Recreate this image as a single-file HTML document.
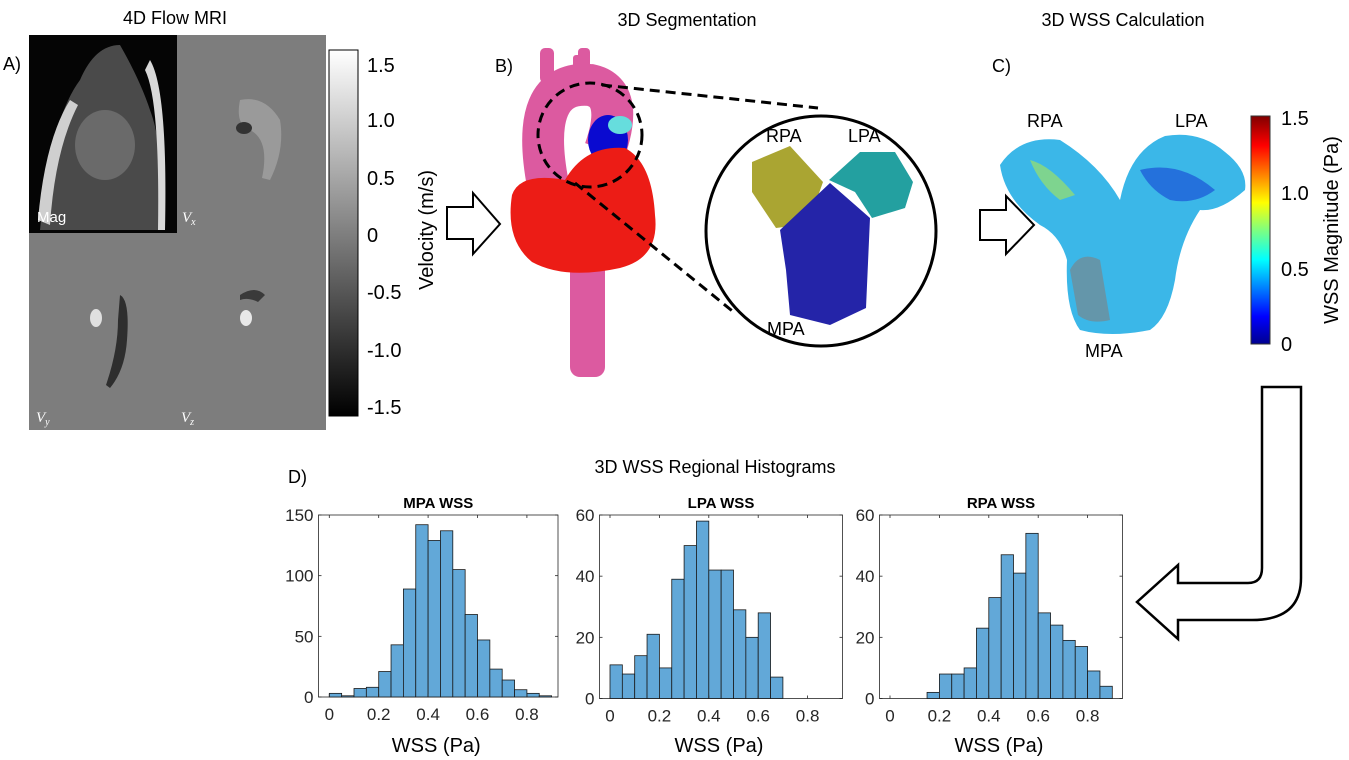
<!DOCTYPE html>
<html><head><meta charset="utf-8"><style>
html,body{margin:0;padding:0;background:#fff;}
svg{display:block;font-family:"Liberation Sans",sans-serif;}
.t{font-family:"Liberation Sans",sans-serif;fill:#000;}
</style></head><body>
<svg id="fig" width="1349" height="760" viewBox="0 0 1349 760" xmlns="http://www.w3.org/2000/svg">
<defs>
<linearGradient id="gray" x1="0" y1="0" x2="0" y2="1"><stop offset="0" stop-color="#fff"/><stop offset="1" stop-color="#000"/></linearGradient>
<linearGradient id="jet" x1="0" y1="1" x2="0" y2="0">
<stop offset="0" stop-color="#00008f"/><stop offset="0.12" stop-color="#0000ff"/><stop offset="0.37" stop-color="#00ffff"/><stop offset="0.5" stop-color="#7fff7f"/><stop offset="0.62" stop-color="#ffff00"/><stop offset="0.87" stop-color="#ff0000"/><stop offset="1" stop-color="#800000"/></linearGradient>
</defs>

<!-- Panel A -->
<g>
<text class="t" x="175" y="24" font-size="18" text-anchor="middle">4D Flow MRI</text>
<text class="t" x="3" y="70" font-size="18">A)</text>
<rect x="29" y="35" width="297" height="395" fill="#7d7d7d"/>
<rect x="29" y="35" width="148" height="198" fill="#050505"/>
<path d="M40,230 Q50,120 80,80 Q95,45 120,45 Q140,80 150,110 Q165,150 162,230Z" fill="#4a4a4a"/>
<path d="M150,60 Q168,90 165,230 L158,230 Q160,100 145,70Z" fill="#d8d8d8"/>
<path d="M38,220 Q45,140 70,100 L78,105 Q55,150 50,225Z" fill="#cfcfcf"/>
<ellipse cx="105" cy="145" rx="30" ry="35" fill="#6a6a6a"/>
<text x="37" y="222" font-size="15" fill="#fff">Mag</text>
<path d="M240,100 Q265,95 280,120 Q285,150 270,180 L262,178 Q270,140 250,130 Q235,125 240,100Z" fill="#9a9a9a"/>
<ellipse cx="244" cy="128" rx="8" ry="6" fill="#333"/>
<path d="M120,295 Q130,300 127,340 Q125,370 110,388 L106,385 Q118,350 118,320Z" fill="#2e2e2e"/>
<ellipse cx="96" cy="318" rx="6" ry="9" fill="#e0e0e0"/>
<ellipse cx="246" cy="318" rx="6" ry="8" fill="#e8e8e8"/>
<path d="M240,295 Q255,285 265,295 L258,302 Q248,297 240,300Z" fill="#3a3a3a"/>
<text x="182" y="222" font-size="15" font-style="italic" fill="#fff" font-family="Liberation Serif,serif">V<tspan font-size="10" dy="3">x</tspan></text>
<text x="36" y="422" font-size="15" font-style="italic" fill="#fff" font-family="Liberation Serif,serif">V<tspan font-size="10" dy="3">y</tspan></text>
<text x="181" y="422" font-size="15" font-style="italic" fill="#fff" font-family="Liberation Serif,serif">V<tspan font-size="10" dy="3">z</tspan></text>
<rect x="329" y="50" width="29" height="366" fill="url(#gray)" stroke="#000" stroke-width="1"/>
<g font-size="20" class="t">
<text x="367" y="72">1.5</text><text x="367" y="127">1.0</text><text x="367" y="185">0.5</text><text x="367" y="242">0</text><text x="367" y="299">-0.5</text><text x="367" y="357">-1.0</text><text x="367" y="414">-1.5</text>
</g>
<text class="t" font-size="20" transform="translate(433,230) rotate(-90)" text-anchor="middle">Velocity (m/s)</text>
</g>

<path d="M447,207 H473 V193 L500,224 L473,254 V239 H447Z" fill="#fff" stroke="#000" stroke-width="2"/>

<!-- Panel B -->
<g>
<text class="t" x="687" y="26" font-size="18" text-anchor="middle">3D Segmentation</text>
<text class="t" x="495" y="72" font-size="18">B)</text>
<rect x="570" y="240" width="35" height="137" rx="10" fill="#dc5aa0"/>
<rect x="540" y="48" width="14" height="35" rx="5" fill="#dc5aa0"/>
<rect x="573" y="55" width="8" height="22" rx="3" fill="#dc5aa0"/>
<rect x="578" y="48" width="12" height="30" rx="4" fill="#dc5aa0"/>
<path d="M548,185 Q528,80 590,85 Q625,92 605,150" fill="none" stroke="#dc5aa0" stroke-width="42"/>
<ellipse cx="608" cy="140" rx="20" ry="25" fill="#0a0ad0"/>
<ellipse cx="620" cy="125" rx="12" ry="9" fill="#66dddd"/>
<path d="M512,195 Q520,172 565,180 Q585,145 625,148 Q652,162 655,215 Q660,258 620,268 Q565,280 532,262 Q505,240 512,195Z" fill="#ec1c16"/>
<circle cx="590" cy="135" r="52" fill="none" stroke="#000" stroke-width="3" stroke-dasharray="10,6"/>
<line x1="602" y1="85" x2="818" y2="108" stroke="#000" stroke-width="3" stroke-dasharray="10,6"/>
<line x1="575" y1="183" x2="736" y2="314" stroke="#000" stroke-width="3" stroke-dasharray="10,6"/>
<circle cx="821" cy="231" r="115" fill="#fff" stroke="#000" stroke-width="3"/>
<path d="M752,162 L790,146 L823,182 L808,224 L776,228 L752,192Z" fill="#aaa532"/>
<path d="M829,180 L860,152 L895,152 L913,182 L905,208 L872,218 L855,192Z" fill="#23a0a0"/>
<path d="M780,230 L830,183 L870,218 L866,308 L830,325 L790,315 L786,270Z" fill="#2424a8"/>
<text class="t" x="766" y="142" font-size="18">RPA</text>
<text class="t" x="848" y="142" font-size="18">LPA</text>
<text class="t" x="767" y="335" font-size="18">MPA</text>
</g>

<path d="M980,210 H1006 V196 L1034,225 L1006,254 V240 H980Z" fill="#fff" stroke="#000" stroke-width="2"/>

<!-- Panel C -->
<g>
<text class="t" x="1123" y="26" font-size="18" text-anchor="middle">3D WSS Calculation</text>
<text class="t" x="992" y="72" font-size="18">C)</text>
<path d="M1000,165 Q1020,135 1060,140 Q1100,165 1120,200 Q1130,150 1165,136 Q1200,130 1225,152 Q1248,170 1245,190 Q1220,212 1200,210 Q1180,240 1175,280 Q1168,318 1150,330 Q1110,338 1080,330 Q1065,310 1067,260 Q1060,235 1040,225 Q1005,200 1000,165Z" fill="#3bb7e8"/>
<path d="M1140,170 Q1180,160 1215,190 Q1195,205 1170,200 Q1150,190 1140,170Z" fill="#1f5fd8" opacity="0.8"/>
<path d="M1070,270 Q1080,250 1100,260 L1110,320 Q1090,325 1078,315Z" fill="#808080" opacity="0.6"/>
<path d="M1030,160 Q1050,165 1075,195 L1060,200 Q1040,185 1030,160Z" fill="#9be06a" opacity="0.7"/>
<text class="t" x="1027" y="127" font-size="18">RPA</text>
<text class="t" x="1175" y="127" font-size="18">LPA</text>
<text class="t" x="1085" y="357" font-size="18">MPA</text>
<rect x="1251" y="116" width="19" height="228" fill="url(#jet)" stroke="#333" stroke-width="1"/>
<g font-size="20" class="t">
<text x="1281" y="125">1.5</text><text x="1281" y="200">1.0</text><text x="1281" y="276">0.5</text><text x="1281" y="351">0</text>
</g>
<text class="t" font-size="20" transform="translate(1338,230) rotate(-90)" text-anchor="middle">WSS Magnitude (Pa)</text>
</g>

<path d="M1262,387 H1301 V578 Q1301,620 1252,620 H1178 V639 L1137,602 L1178,565 V583 H1248 Q1262,583 1262,568Z" fill="#fff" stroke="#000" stroke-width="2.5"/>

<!-- Panel D -->
<text class="t" x="288" y="483" font-size="18">D)</text>
<text class="t" x="715" y="473" font-size="18" text-anchor="middle">3D WSS Regional Histograms</text>
<g id="hists"></g>
</svg>
<script>
// Histogram data (bin width 0.05 Pa)
const binWidth = 0.05;
const mpaBinStarts = [0,0.05,0.1,0.15,0.2,0.25,0.3,0.35,0.4,0.45,0.5,0.55,0.6,0.65,0.7,0.75,0.8,0.85];
const mpaCounts = [3,1,7,8,21,43,89,142,129,137,105,68,47,23,14,6,3,1];
const lpaBinStarts = [0,0.05,0.1,0.15,0.2,0.25,0.3,0.35,0.4,0.45,0.5,0.55,0.6,0.65];
const lpaCounts = [11,8,14,21,10,39,50,58,42,42,29,20,28,7];
const rpaBinStarts = [0.15,0.2,0.25,0.3,0.35,0.4,0.45,0.5,0.55,0.6,0.65,0.7,0.75,0.8,0.85];
const rpaCounts = [2,8,8,10,23,33,47,41,54,28,24,19,17,9,4];
const xTicks = [0,0.2,0.4,0.6,0.8];
const mpaYTicks = [0,50,100,150];
const lpaYTicks = [0,20,40,60];
const rpaYTicks = [0,20,40,60];
const titles = ["MPA WSS","LPA WSS","RPA WSS"];

const NS = "http://www.w3.org/2000/svg";
const root = document.getElementById('hists');
function mk(tag, attrs, parent){const e=document.createElementNS(NS,tag);for(const k in attrs)e.setAttribute(k,attrs[k]);parent.appendChild(e);return e;}

const layouts = [
  {left:318.5,right:558,top:515,bottom:697,x0:329.3,ymax:150,bins:mpaBinStarts,counts:mpaCounts,yt:mpaYTicks,name:'mpa'},
  {left:599.5,right:842.5,top:515,bottom:698.5,x0:610,ymax:60,bins:lpaBinStarts,counts:lpaCounts,yt:lpaYTicks,name:'lpa'},
  {left:879.5,right:1122.5,top:515,bottom:698.5,x0:890,ymax:60,bins:rpaBinStarts,counts:rpaCounts,yt:rpaYTicks,name:'rpa'}
];
layouts.forEach((L,i)=>{
  const pxPerUnit = 247;
  const xs = v => L.x0 + v*pxPerUnit;
  const ys = c => L.bottom - c/L.ymax*(L.bottom-L.top);
  const g = mk('g',{},root);
  
  
  const bg = mk('rect',{x:L.left,y:L.top,width:L.right-L.left,height:L.bottom-L.top,fill:'#fff',stroke:'#262626','stroke-width':0.8},g);
  
  
  L.counts.forEach((c,j)=>{
    const x1 = xs(L.bins[j]), x2 = xs(L.bins[j]+binWidth);
    const b = mk('rect',{x:x1,y:ys(c),width:x2-x1,height:L.bottom-ys(c),fill:'#62a8d8',stroke:'#1a1a1a','stroke-width':0.8},g);
    
    
  });
  xTicks.forEach(v=>{
    const x = xs(v);
    mk('line',{x1:x,x2:x,y1:L.bottom,y2:L.bottom-3,stroke:'#262626','stroke-width':0.8},g);
    mk('line',{x1:x,x2:x,y1:L.top,y2:L.top+3,stroke:'#262626','stroke-width':0.8},g);
    const t = mk('text',{x:x,y:L.bottom+23,'font-size':17,fill:'#262626','text-anchor':'middle'},g);
    t.textContent = String(v);
    
    
  });
  L.yt.forEach(v=>{
    const y = ys(v);
    mk('line',{x1:L.left,x2:L.left+3,y1:y,y2:y,stroke:'#262626','stroke-width':0.8},g);
    mk('line',{x1:L.right,x2:L.right-3,y1:y,y2:y,stroke:'#262626','stroke-width':0.8},g);
    const t = mk('text',{x:L.left-5,y:y+6,'font-size':17,fill:'#262626','text-anchor':'end'},g);
    t.textContent = String(v);
    
    
  });
  const ti = mk('text',{x:(L.left+L.right)/2,y:508,'font-size':15,'font-weight':'bold',fill:'#000','text-anchor':'middle'},g);
  ti.textContent = titles[i];
  
  
  const xl = mk('text',{x:(L.left+L.right)/2-2,y:752,'font-size':20,fill:'#000','text-anchor':'middle'},g);
  xl.textContent = 'WSS (Pa)';
  
  
});
</script>
</body></html>
